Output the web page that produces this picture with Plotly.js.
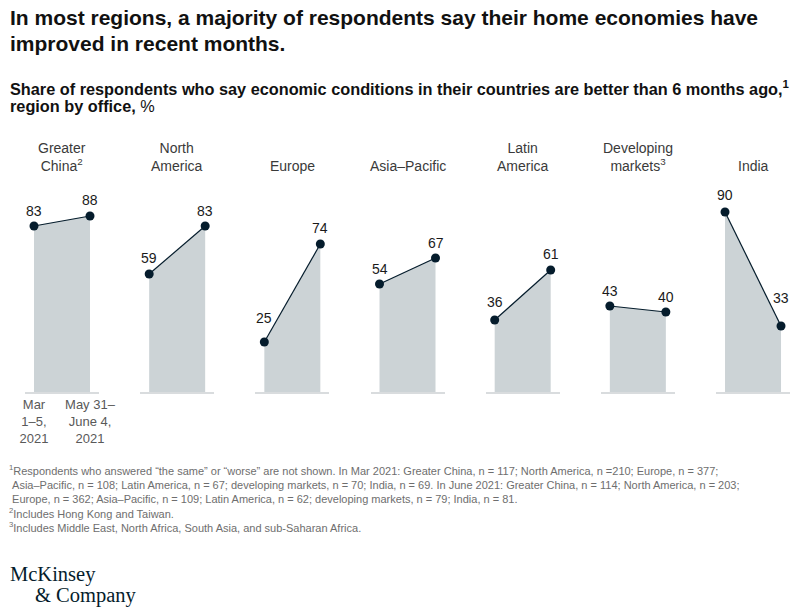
<!DOCTYPE html>
<html>
<head>
<meta charset="utf-8">
<script src="https://cdn.plot.ly/plotly-3.0.1.min.js"></script>
<style>
html,body{margin:0;padding:0;background:#fff;}
#chart{width:803px;height:610px;}
</style>
</head>
<body>
<div id="chart"></div>
<script>
// ---- data ----
const regions = ["Greater<br>China<sup>2</sup>", "North<br>America", "Europe", "Asia\u2013Pacific", "Latin<br>America", "Developing<br>markets<sup>3</sup>", "India"];
const mar2021 = [83, 59, 25, 54, 36, 43, 90];
const jun2021 = [88, 83, 74, 67, 61, 40, 33];
const periods = ["Mar<br>1\u20135,<br>2021", "May 31\u2013<br>June 4,<br>2021"];

const titleLines = ["In most regions, a majority of respondents say their home economies have", "improved in recent months."];
const subtitleLines = ["<b>Share of respondents who say economic conditions in their countries are better than 6 months ago,<sup>1</sup></b>", "<b>region by office,</b> %"];
const footnoteLines = [
  "<sup>1</sup>Respondents who answered \u201cthe same\u201d or \u201cworse\u201d are not shown. In Mar 2021: Greater China, n = 117; North America, n =210; Europe, n = 377;",
  "\u00a0Asia\u2013Pacific, n = 108; Latin America, n = 67; developing markets, n = 70; India, n = 69. In June 2021: Greater China, n = 114; North America, n = 203;",
  "\u00a0Europe, n = 362; Asia\u2013Pacific, n = 109; Latin America, n = 62; developing markets, n = 79; India, n = 81.",
  "<sup>2</sup>Includes Hong Kong and Taiwan.",
  "<sup>3</sup>Includes Middle East, North Africa, South Asia, and sub-Saharan Africa."
];

// ---- layout helpers ----
const W = 803, H = 610;
const px = x => x / W;
const py = y => 1 - y / H;
const P0 = 34, STEP = 115.17, GAP = 56, PAD = 9;
const NAVY = "#051c2c", FILL = "#ccd3d6", BASE = "#d9dcde";
const SANS = "Liberation Sans, Arial, sans-serif";
const SERIF = "Liberation Serif, Times New Roman, serif";
// per-label vertical lift (px) for [Mar, June] to keep numbers clear of lines
const lift = [[15, 16], [16, 15], [24, 16], [15, 15], [18, 16], [15, 15], [17, 28]];

const data = [];
const annotations = [];
const layout = {
  width: W, height: H,
  margin: {l: 0, r: 0, t: 0, b: 0},
  paper_bgcolor: "#fff", plot_bgcolor: "rgba(0,0,0,0)",
  showlegend: false,
  hovermode: false,
  font: {family: SANS, color: "#222"},
  yaxis: {
    domain: [py(392), py(192)],
    range: [0, 100],
    visible: false,
    fixedrange: true
  }
};

function textAt(x, yMid, text, size, color, family) {
  annotations.push({
    xref: "paper", yref: "paper", x: px(x), y: py(yMid),
    xanchor: "left", yanchor: "middle", align: "left",
    text: text, showarrow: false,
    font: {family: family || SANS, size: size, color: color}
  });
}

regions.forEach((name, i) => {
  const P = P0 + STEP * i;
  const xid = i === 0 ? "x" : "x" + (i + 1);
  const axKey = i === 0 ? "xaxis" : "xaxis" + (i + 1);
  layout[axKey] = {
    domain: [px(P - PAD), px(P + GAP + PAD)],
    range: [-PAD / GAP, 1 + PAD / GAP],
    anchor: "y",
    showgrid: false, zeroline: false,
    showline: true, linecolor: BASE, linewidth: 1.5,
    ticks: "",
    tickvals: i === 0 ? [0, 1] : [],
    ticktext: i === 0 ? periods : [],
    showticklabels: i === 0,
    tickfont: {family: SANS, size: 13, color: "#595959"},
    fixedrange: true
  };
  const vals = [mar2021[i], jun2021[i]];
  data.push({
    type: "scatter",
    x: [0, 1], y: vals,
    xaxis: xid, yaxis: "y",
    mode: "lines+markers",
    fill: "tozeroy", fillcolor: FILL,
    line: {color: NAVY, width: 1.2},
    marker: {color: NAVY, size: 9},
    cliponaxis: false,
    hoverinfo: "skip"
  });
  vals.forEach((v, k) => {
    annotations.push({
      xref: xid, yref: "y", x: k, y: v,
      text: String(v), showarrow: false,
      yanchor: "middle", yshift: lift[i][k],
      font: {family: SANS, size: 14, color: "#1a1a1a"}
    });
  });
  annotations.push({
    xref: "paper", yref: "paper",
    x: px(P + GAP / 2), y: py(176),
    xanchor: "center", yanchor: "bottom",
    text: name, showarrow: false,
    font: {family: SANS, size: 14, color: "#3a3a3a"}
  });
});

textAt(8, 18, "<b>" + titleLines[0] + "</b>", 21, "#111");
textAt(8, 43, "<b>" + titleLines[1] + "</b>", 21, "#111");
textAt(8, 88, subtitleLines[0], 16.3, "#111");
textAt(8, 106, subtitleLines[1], 16.3, "#111");

annotations.push({
  xref: "paper", yref: "paper", x: px(7), y: py(461),
  xanchor: "left", yanchor: "top", align: "left",
  text: footnoteLines.join("<br>"), showarrow: false,
  font: {family: SANS, size: 11, color: "#6e6e6e"}
});

textAt(8, 574, "McKinsey", 20.5, NAVY, SERIF);
textAt(33, 595, "&amp; Company", 20.5, NAVY, SERIF);

layout.annotations = annotations;

Plotly.newPlot("chart", data, layout, {displayModeBar: false, staticPlot: true});
</script>
</body>
</html>
